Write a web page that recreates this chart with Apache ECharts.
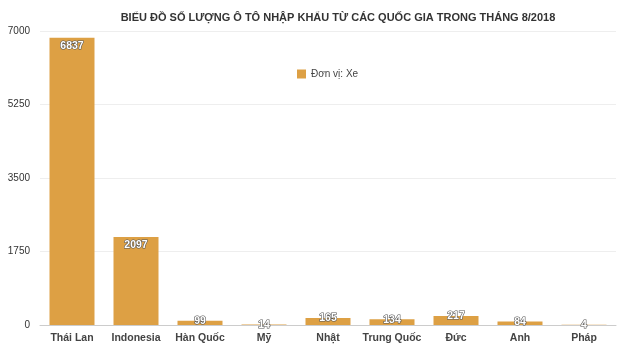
<!DOCTYPE html>
<html><head><meta charset="utf-8">
<script src="https://cdn.jsdelivr.net/npm/echarts@6/dist/echarts.min.js"></script>
<style>html,body{margin:0;padding:0;background:#fff}#c{width:640px;height:361px}</style>
</head><body><div id="c"></div>
<script>
var categories = ['Thái Lan','Indonesia','Hàn Quốc','Mỹ','Nhật','Trung Quốc','Đức','Anh','Pháp'];
var values = [6837, 2097, 99, 14, 165, 134, 217, 84, 4];
var seriesName = 'Đơn vị: Xe';
var titleText = 'BIỂU ĐỒ SỐ LƯỢNG Ô TÔ NHẬP KHẨU TỪ CÁC QUỐC GIA TRONG THÁNG 8/2018';
var yMax = 7000, yInterval = 1750;

var chart = echarts.init(document.getElementById('c'));
chart.setOption({
  animation: false,
  title: {text: titleText, left: 333, textAlign: 'center', top: 7,
    textStyle: {fontFamily: 'Liberation Sans, Arial', fontSize: 11, fontWeight: 'bold', color: '#333'}},
  legend: {left: 292, top: 64, itemWidth: 9, itemHeight: 9, icon: 'rect',
    itemStyle: {borderWidth: 0},
    textStyle: {fontFamily: 'Liberation Sans, Arial', fontSize: 10, color: '#444'}},
  grid: {left: 40, right: 24, top: 31, bottom: 36},
  xAxis: {type: 'category', data: categories,
    axisLine: {lineStyle: {color: '#ccc', width: 1}}, axisTick: {show: false},
    axisLabel: {interval: 0, fontFamily: 'Liberation Sans, Arial', fontSize: 10.5, fontWeight: 'bold', color: '#444', margin: 8}},
  yAxis: {type: 'value', min: 0, max: yMax, interval: yInterval,
    axisLine: {show: false}, axisTick: {show: false},
    splitLine: {lineStyle: {color: '#eee'}},
    axisLabel: {formatter: function (v) { return String(v); }, fontFamily: 'Liberation Sans, Arial', fontSize: 10, color: '#333', margin: 10}},
  series: [{name: seriesName, type: 'bar', barWidth: 45,
    data: values.map(function (v) {
      return v < 500 ? {value: v, label: {position: 'top', distance: -6}} : {value: v};
    }),
    itemStyle: {color: '#DDA044'},
    label: {show: true, position: 'insideTop', distance: 3, color: '#fff',
      fontFamily: 'Liberation Sans, Arial', fontSize: 10.5, fontWeight: 'bold',
      textBorderColor: '#555', textBorderWidth: 1.2}}]
});
</script></body></html>
